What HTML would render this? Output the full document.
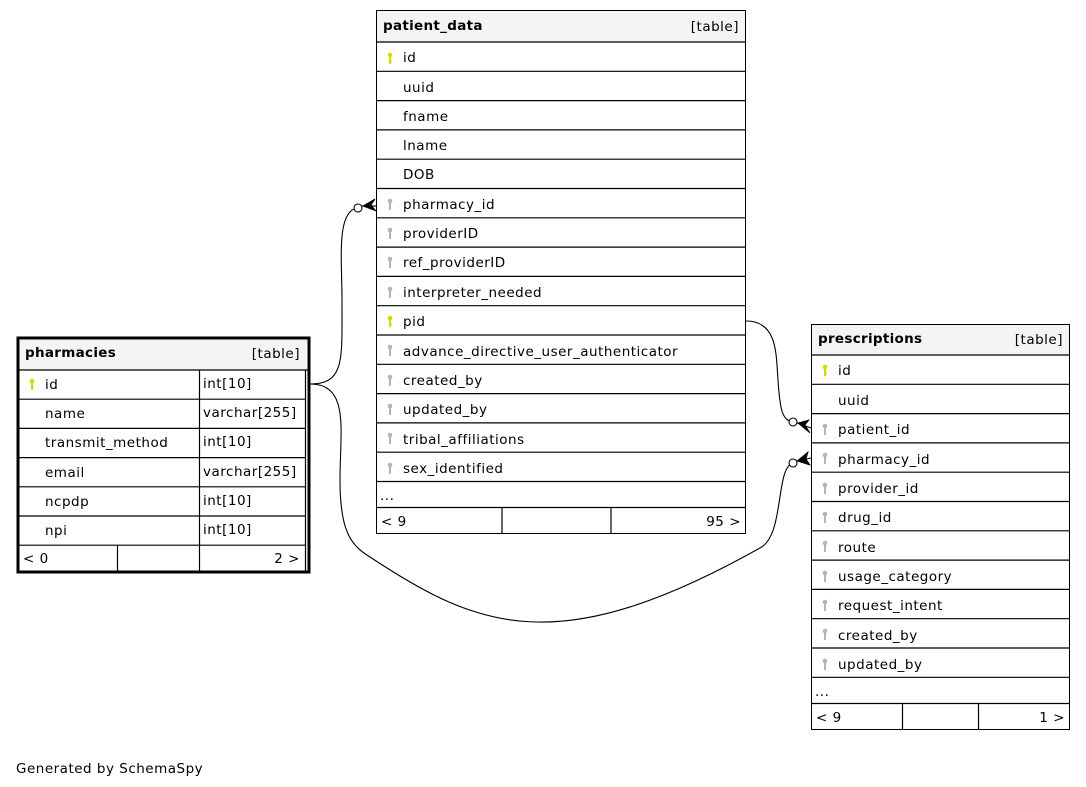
<!DOCTYPE html>
<html><head><meta charset="utf-8"><style>
html,body{margin:0;padding:0;background:#fff;}
svg{display:block;}
text{font-family:"DejaVu Sans","Liberation Sans",sans-serif;font-size:13.5px;letter-spacing:0.5px;fill:#000;}
.b{font-weight:bold;letter-spacing:0.3px;}
</style></head><body>
<svg width="1086" height="787" viewBox="0 0 1086 787" xmlns="http://www.w3.org/2000/svg">
<defs>
<g id="kp"><circle cx="0" cy="-3" r="2.3" fill="#d8d800"/><rect x="-1" y="-2" width="2" height="8" fill="#d8d800"/><rect x="0" y="3" width="2" height="1.2" fill="#d8d800"/></g>
<g id="kf"><circle cx="0" cy="-3" r="2.3" fill="#b4b4b4"/><rect x="-1" y="-2" width="2" height="8" fill="#b4b4b4"/></g>
</defs>
<g fill="none" stroke="#000" stroke-width="1.1">
<path d="M310,384 C345,384 342,360 342,300 C342,260 336,210 358,208"/>
<path d="M310,384 C350,384 340,430 340,480 C340,530 350,545 370,557 C480,630 560,660 760,548 C785,535 775,468 793,463"/>
<path d="M746,321 C778,321 776,355 778,380 C780,410 782,420 793,422"/>
<path d="M362,206 L376,206"/><path d="M797,423 L811,428"/><path d="M797,461 L811,458"/>
</g>
<g fill="#fff" stroke="#000" stroke-width="1.1">
<circle cx="358" cy="208" r="4"/><circle cx="793" cy="422" r="4"/><circle cx="793" cy="463" r="4"/>
</g>
<g fill="#000" stroke="#000" stroke-width="0.8">
<polygon points="363,206 375,199 371,205 376,211"/>
<polygon points="798,423 809,420 805,425 810,433"/>
<polygon points="797,461 808,452 806,459 810,465"/>
</g>

<!-- patient_data -->
<rect x="376.5" y="10.5" width="369" height="523" fill="#fff" stroke="#000"/>
<rect x="377" y="11" width="368" height="31" fill="#f4f4f4"/>
<g stroke="#000" stroke-width="1.2">
<line x1="376" y1="42" x2="746" y2="42"/><line x1="376" y1="71.3" x2="746" y2="71.3"/><line x1="376" y1="100.6" x2="746" y2="100.6"/><line x1="376" y1="129.9" x2="746" y2="129.9"/><line x1="376" y1="159.2" x2="746" y2="159.2"/><line x1="376" y1="188.5" x2="746" y2="188.5"/><line x1="376" y1="217.8" x2="746" y2="217.8"/><line x1="376" y1="247.1" x2="746" y2="247.1"/><line x1="376" y1="276.4" x2="746" y2="276.4"/><line x1="376" y1="305.7" x2="746" y2="305.7"/><line x1="376" y1="335" x2="746" y2="335"/><line x1="376" y1="364.3" x2="746" y2="364.3"/><line x1="376" y1="393.6" x2="746" y2="393.6"/><line x1="376" y1="422.9" x2="746" y2="422.9"/><line x1="376" y1="452.2" x2="746" y2="452.2"/><line x1="376" y1="481.5" x2="746" y2="481.5"/><line x1="376" y1="507.5" x2="746" y2="507.5"/>
<line x1="502" y1="507" x2="502" y2="534"/><line x1="611" y1="507" x2="611" y2="534"/>
</g>
<text x="383" y="30" class="b">patient_data</text><text x="739" y="31" text-anchor="end">[table]</text>
<use href="#kp" x="390" y="58"/><text x="403" y="62">id</text>
<text x="403" y="92">uuid</text>
<text x="403" y="121">fname</text>
<text x="403" y="150">lname</text>
<text x="403" y="179">DOB</text>
<use href="#kf" x="390" y="204"/><text x="403" y="209">pharmacy_id</text>
<use href="#kf" x="390" y="233"/><text x="403" y="238">providerID</text>
<use href="#kf" x="390" y="262"/><text x="403" y="267">ref_providerID</text>
<use href="#kf" x="390" y="292"/><text x="403" y="297">interpreter_needed</text>
<use href="#kp" x="390" y="321"/><text x="403" y="326">pid</text>
<use href="#kf" x="390" y="350"/><text x="403" y="356">advance_directive_user_authenticator</text>
<use href="#kf" x="390" y="380"/><text x="403" y="385">created_by</text>
<use href="#kf" x="390" y="409"/><text x="403" y="414">updated_by</text>
<use href="#kf" x="390" y="438"/><text x="403" y="444">tribal_affiliations</text>
<use href="#kf" x="390" y="468"/><text x="403" y="473">sex_identified</text>
<text x="380" y="500">...</text>
<text x="381" y="526">&lt; 9</text><text x="741" y="526" text-anchor="end">95 &gt;</text>

<!-- pharmacies -->
<rect x="18" y="338" width="291" height="234" fill="#fff" stroke="#000" stroke-width="3"/>
<rect x="20" y="340" width="287" height="30" fill="#f4f4f4"/>
<g stroke="#000" stroke-width="1.2">
<line x1="18" y1="370" x2="310" y2="370"/><line x1="18" y1="399.2" x2="305" y2="399.2"/><line x1="18" y1="428.4" x2="305" y2="428.4"/><line x1="18" y1="457.6" x2="305" y2="457.6"/><line x1="18" y1="486.8" x2="305" y2="486.8"/><line x1="18" y1="516" x2="305" y2="516"/><line x1="18" y1="545.2" x2="305" y2="545.2"/>
<line x1="199.5" y1="370" x2="199.5" y2="572"/><line x1="117.5" y1="545" x2="117.5" y2="572"/><line x1="305.5" y1="370" x2="305.5" y2="572"/>
</g>
<text x="25" y="357" class="b">pharmacies</text><text x="300" y="358" text-anchor="end">[table]</text>
<use href="#kp" x="32" y="384"/><text x="45" y="389">id</text><text x="203" y="388">int[10]</text>
<text x="45" y="418">name</text><text x="203" y="417">varchar[255]</text>
<text x="45" y="447">transmit_method</text><text x="203" y="446">int[10]</text>
<text x="45" y="477">email</text><text x="203" y="476">varchar[255]</text>
<text x="45" y="506">ncpdp</text><text x="203" y="505">int[10]</text>
<text x="45" y="535">npi</text><text x="203" y="534">int[10]</text>
<text x="23" y="563">&lt; 0</text><text x="300" y="563" text-anchor="end">2 &gt;</text>

<!-- prescriptions -->
<rect x="811.5" y="324.5" width="258" height="405" fill="#fff" stroke="#000"/>
<rect x="812" y="325" width="257" height="30" fill="#f4f4f4"/>
<g stroke="#000" stroke-width="1.2">
<line x1="811" y1="355" x2="1070" y2="355"/><line x1="811" y1="384.3" x2="1070" y2="384.3"/><line x1="811" y1="413.6" x2="1070" y2="413.6"/><line x1="811" y1="442.9" x2="1070" y2="442.9"/><line x1="811" y1="472.2" x2="1070" y2="472.2"/><line x1="811" y1="501.5" x2="1070" y2="501.5"/><line x1="811" y1="530.8" x2="1070" y2="530.8"/><line x1="811" y1="560.1" x2="1070" y2="560.1"/><line x1="811" y1="589.4" x2="1070" y2="589.4"/><line x1="811" y1="618.7" x2="1070" y2="618.7"/><line x1="811" y1="648" x2="1070" y2="648"/><line x1="811" y1="677.3" x2="1070" y2="677.3"/><line x1="811" y1="703.5" x2="1070" y2="703.5"/>
<line x1="902.5" y1="703" x2="902.5" y2="730"/><line x1="978.5" y1="703" x2="978.5" y2="730"/>
</g>
<text x="818" y="343" class="b">prescriptions</text><text x="1063" y="344" text-anchor="end">[table]</text>
<use href="#kp" x="825" y="370"/><text x="838" y="375">id</text>
<text x="838" y="405">uuid</text>
<use href="#kf" x="825" y="429"/><text x="838" y="434">patient_id</text>
<use href="#kf" x="825" y="458"/><text x="838" y="464">pharmacy_id</text>
<use href="#kf" x="825" y="488"/><text x="838" y="493">provider_id</text>
<use href="#kf" x="825" y="517"/><text x="838" y="522">drug_id</text>
<use href="#kf" x="825" y="546"/><text x="838" y="552">route</text>
<use href="#kf" x="825" y="576"/><text x="838" y="581">usage_category</text>
<use href="#kf" x="825" y="605"/><text x="838" y="610">request_intent</text>
<use href="#kf" x="825" y="634"/><text x="838" y="640">created_by</text>
<use href="#kf" x="825" y="664"/><text x="838" y="669">updated_by</text>
<text x="815" y="696">...</text>
<text x="816" y="722">&lt; 9</text><text x="1065" y="722" text-anchor="end">1 &gt;</text>

<text x="16" y="773">Generated by SchemaSpy</text>
</svg>
</body></html>
